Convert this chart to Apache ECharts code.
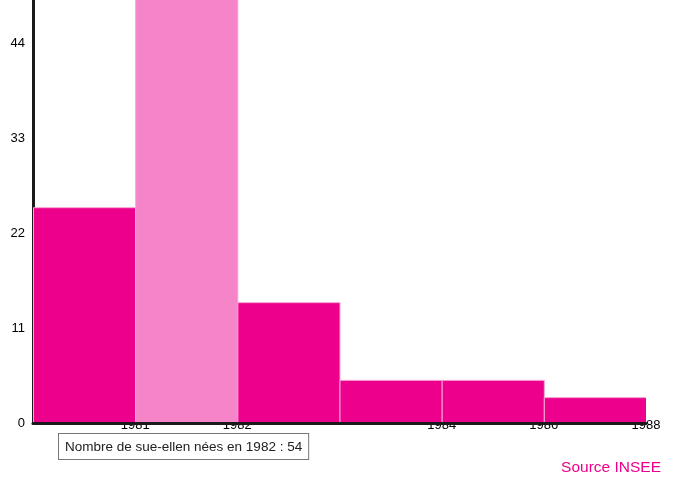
<!DOCTYPE html>
<html><head><meta charset="utf-8">
<script src="https://cdn.jsdelivr.net/npm/echarts@6/dist/echarts.min.js"></script>
<style>html,body{margin:0;padding:0;background:#fff}#c{width:676px;height:478px}</style>
</head><body><div id="c"></div>
<script>
// bins (index of bin), values, edge labels
var binStarts = [0, 1, 2, 3, 4, 5];
var values = [25, 54, 14, 5, 5, 3];
var highlighted = [false, true, false, false, false, false];
var edgeLabels = ['', '1981', '1982', '', '1984', '1986', '1988'];
var yTicks = [0, 11, 22, 33, 44];

var data = binStarts.map(function (s, i) { return [s, s + 1, values[i], highlighted[i] ? 1 : 0]; });

var chart = echarts.init(document.getElementById('c'));
chart.setOption({
  animation: false,
  grid: { left: 33, right: 30, top: 0, bottom: 55 },
  xAxis: [{
    type: 'value', min: 0, max: 6, interval: 1, z: 1,
    axisLine: { show: false }, axisTick: { show: false }, splitLine: { show: false },
    axisLabel: { margin: -4, color: '#000', fontSize: 13, fontFamily: 'Liberation Sans',
      formatter: function (v) { return edgeLabels[Math.round(v)] || ''; } }
  }, {
    type: 'value', min: 0, max: 6, position: 'bottom', z: 5,
    axisLine: { show: true, lineStyle: { color: '#1a1a1a', width: 3 } },
    axisTick: { show: false }, splitLine: { show: false }, axisLabel: { show: false }
  }],
  yAxis: {
    type: 'value', min: 0, max: 49, interval: 11,
    axisLine: { show: true, lineStyle: { color: '#1a1a1a', width: 3 } },
    axisTick: { show: false }, splitLine: { show: false },
    axisLabel: { color: '#000', fontSize: 13, fontFamily: 'Liberation Sans', margin: 8,
      formatter: function (v) { return yTicks.indexOf(v) >= 0 ? String(v) : ''; } }
  },
  series: [{
    type: 'custom', clip: true, xAxisIndex: 0,
    renderItem: function (params, api) {
      var p0 = api.coord([api.value(0), api.value(2)]);
      var p1 = api.coord([api.value(1), 0]);
      var hl = api.value(3) === 1;
      return {
        type: 'rect',
        shape: { x: p0[0] + 0.5, y: p0[1] + 0.5, width: p1[0] - p0[0], height: p1[1] - p0[1] },
        style: { fill: hl ? '#f584c8' : '#ec008c', stroke: '#f7a6d4', lineWidth: 1 }
      };
    },
    encode: { x: [0, 1], y: 2 },
    data: data
  }],
  graphic: [{
    type: 'text', left: 58, top: 433,
    style: { text: 'Nombre de sue-ellen nées en 1982 : 54', fontSize: 13.5, fontFamily: 'Liberation Sans',
      fill: '#222', backgroundColor: '#fff', borderColor: '#777', borderWidth: 1, padding: [6, 6, 5, 6] }
  }, {
    type: 'text', right: 15, top: 460,
    style: { text: 'Source INSEE', fontSize: 15.5, fontFamily: 'Liberation Sans', fill: '#ec008c' }
  }]
});
</script></body></html>
